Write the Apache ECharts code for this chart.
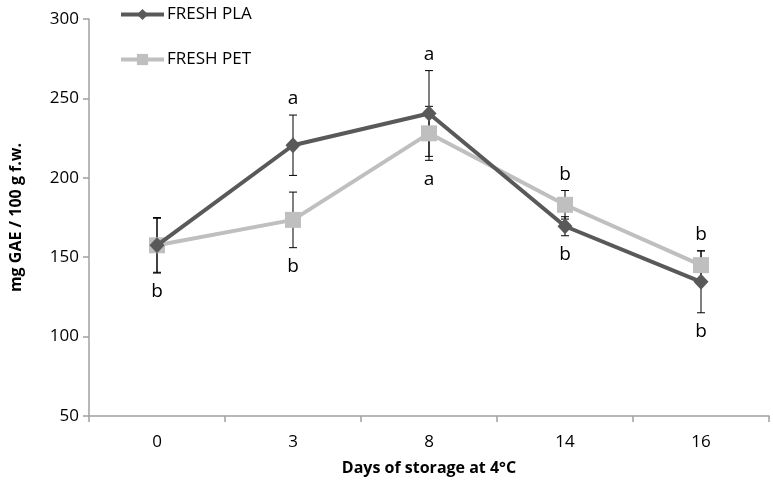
<!DOCTYPE html>
<html>
<head>
<meta charset="utf-8">
<script src="https://cdn.jsdelivr.net/npm/echarts@6/dist/echarts.min.js"></script>
<style>html,body{margin:0;padding:0;background:#fff}#c{width:773px;height:487px}</style>
</head>
<body>
<div id="c"></div>
<script>
var categories = ['0', '3', '8', '14', '16'];
var plaMean = [157.5, 220.5, 240.5, 169.5, 134.5];
var plaErr = [17, 19, 27, 6, 19.5];
var petMean = [157.5, 173.5, 228, 183, 145];
var petErr = [17.5, 17.5, 17, 9, 9];
var lettersAbove = ['', 'a', 'a', 'b', 'b'];
var lettersBelow = ['b', 'b', 'a', 'b', 'b'];
var yTicks = [50, 100, 150, 200, 250, 300];

var FONT = 'Open Sans';
var chart = echarts.init(document.getElementById('c'), null, {renderer: 'canvas'});

function errData(mean, err) {
  return mean.map(function (m, i) { return [i, m - err[i], m + err[i]]; });
}
function errRender(params, api) {
  var x = api.value(0);
  var lo = api.coord([x, api.value(1)]);
  var hi = api.coord([x, api.value(2)]);
  var w = 4;
  var st = {stroke: '#000', lineWidth: 1};
  return {type: 'group', children: [
    {type: 'line', shape: {x1: lo[0], y1: lo[1], x2: hi[0], y2: hi[1]}, style: st},
    {type: 'line', shape: {x1: lo[0] - w, y1: lo[1], x2: lo[0] + w, y2: lo[1]}, style: st},
    {type: 'line', shape: {x1: hi[0] - w, y1: hi[1], x2: hi[0] + w, y2: hi[1]}, style: st}
  ]};
}
var letterData = categories.map(function (c, i) {
  var top = Math.max(plaMean[i] + plaErr[i], petMean[i] + petErr[i]);
  var bot = Math.min(plaMean[i] - plaErr[i], petMean[i] - petErr[i]);
  return [i, top, bot];
});
function letterRender(params, api) {
  var i = params.dataIndex;
  var x = api.value(0);
  var t = api.coord([x, api.value(1)]);
  var b = api.coord([x, api.value(2)]);
  var st = {font: '19px "' + FONT + '"', fill: '#000', align: 'center', verticalAlign: 'middle'};
  var ch = [];
  if (lettersAbove[i]) ch.push({type: 'text', x: t[0], y: t[1] - 16, style: Object.assign({text: lettersAbove[i]}, st)});
  if (lettersBelow[i]) ch.push({type: 'text', x: b[0], y: b[1] + 19, style: Object.assign({text: lettersBelow[i]}, st)});
  return {type: 'group', children: ch};
}

var option = {
  animation: false,
  backgroundColor: '#fff',
  textStyle: {fontFamily: FONT},
  legend: {
    orient: 'vertical', left: 114, top: 1,
    itemWidth: 43, itemHeight: 14, itemGap: 28,
    lineStyle: {width: 4},
    textStyle: {fontFamily: FONT, fontSize: 17, color: '#000', padding: [0, 0, 0, -2]},
    data: ['FRESH PLA', 'FRESH PET']
  },
  grid: {left: 88, right: 4, top: 19, bottom: 71, containLabel: false},
  xAxis: {
    type: 'category', data: categories, boundaryGap: true,
    name: 'Days of storage at 4°C', nameLocation: 'middle', nameGap: 44,
    nameTextStyle: {fontFamily: FONT, fontSize: 16, fontWeight: 'bold', color: '#000'},
    axisLine: {lineStyle: {color: '#a0a0a0', width: 1.5}},
    axisTick: {show: true, length: 6, lineStyle: {color: '#a0a0a0', width: 1.5}},
    axisLabel: {fontFamily: FONT, fontSize: 17, color: '#000', margin: 18},
    splitLine: {show: false}
  },
  yAxis: {
    type: 'value', min: yTicks[0], max: yTicks[yTicks.length - 1], interval: 50,
    name: 'mg GAE / 100 g f.w.', nameLocation: 'middle', nameGap: 65,
    nameTextStyle: {fontFamily: FONT, fontSize: 16, fontWeight: 'bold', color: '#000'},
    axisLine: {show: true, lineStyle: {color: '#a0a0a0', width: 1.5}},
    axisTick: {show: true, length: 6, inside: false, lineStyle: {color: '#a0a0a0', width: 1.5}},
    axisLabel: {fontFamily: FONT, fontSize: 17, color: '#000', margin: 10},
    splitLine: {show: false}
  },
  series: [
    {type: 'custom', name: 'errPLA', renderItem: errRender, data: errData(plaMean, plaErr), z: 1, silent: true},
    {type: 'custom', name: 'errPET', renderItem: errRender, data: errData(petMean, petErr), z: 1, silent: true},
    {
      type: 'line', name: 'FRESH PLA', data: plaMean, z: 3,
      symbol: 'diamond', symbolSize: [15, 16],
      lineStyle: {color: '#595959', width: 4},
      itemStyle: {color: '#595959'}
    },
    {
      type: 'line', name: 'FRESH PET', data: petMean, z: 2,
      symbol: 'rect', symbolSize: 16,
      lineStyle: {color: '#bfbfbf', width: 4},
      itemStyle: {color: '#bfbfbf'}
    },
    {type: 'custom', name: 'letters', renderItem: letterRender, data: letterData, z: 5, silent: true}
  ]
};
chart.setOption(option);
</script>
</body>
</html>
